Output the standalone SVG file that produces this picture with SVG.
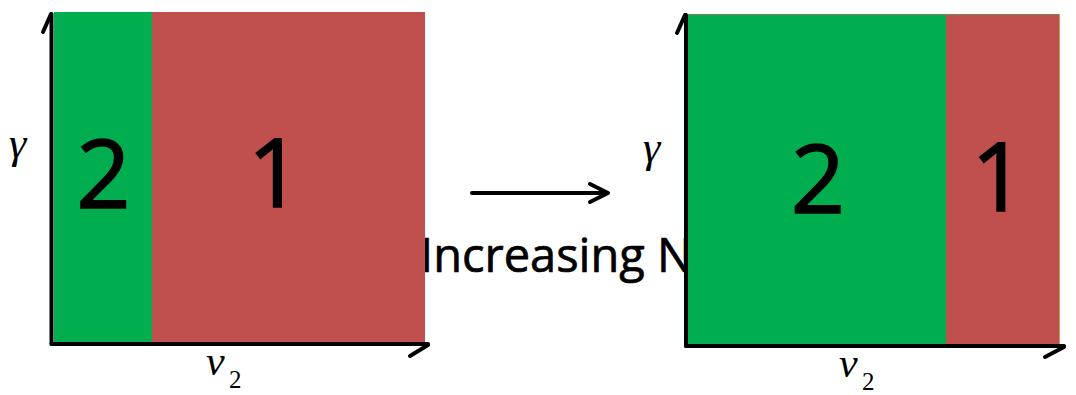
<svg xmlns="http://www.w3.org/2000/svg" width="1076" height="395" viewBox="0 0 1076 395">
<style>
.green{fill:#00AE50}
.red{fill:#C0504D}
.axis{stroke:#000;stroke-width:4;fill:none;stroke-linecap:round;stroke-linejoin:round}
.digit{font-family:"Open Sans","Liberation Sans",sans-serif;font-size:95px;fill:#000;stroke:#000;stroke-width:1.6;text-anchor:middle}
.math{font-family:"Liberation Serif","DejaVu Serif",serif;font-style:italic;font-size:44px;fill:#000}
.nu{font-family:"Liberation Serif","DejaVu Serif",serif;font-style:italic;font-size:42px;fill:#000}
.sub{font-family:"Liberation Serif","DejaVu Serif",serif;font-size:25px;fill:#000}
.label{font-family:"Open Sans","Liberation Sans",sans-serif;font-size:47px;fill:#000;stroke:#000;stroke-width:0.7}
</style>
<rect width="1076" height="395" fill="#fff"/>
<g id="increasing-label">
<text class="label" x="420" y="272">Increasing N</text>
</g>
<g id="panel-left">
<line class="axis" x1="51.5" y1="14" x2="51.5" y2="344"/>
<line class="axis" x1="43" y1="32" x2="51" y2="14"/>
<line class="axis" x1="51.5" y1="344" x2="428" y2="344"/>
<line class="axis" x1="428" y1="345" x2="410" y2="356"/>
<rect class="green" x="54" y="12" width="98" height="330"/>
<rect class="red" x="152" y="12" width="273" height="330"/>
<text class="digit" x="103.5" y="208">2</text>
<text class="digit" x="275" y="207">1</text>
<text class="math" x="9" y="158">γ</text>
<text class="nu" x="206" y="375">ν</text>
<text class="sub" x="229" y="388">2</text>
</g>
<g id="panel-right">
<line class="axis" x1="686" y1="15" x2="686" y2="346"/>
<line class="axis" x1="677" y1="33" x2="685" y2="15"/>
<line class="axis" x1="686" y1="346" x2="1064" y2="346"/>
<line class="axis" x1="1064" y1="347" x2="1045" y2="357"/>
<rect class="green" x="688" y="14" width="258" height="330"/>
<rect class="red" x="946" y="14" width="113" height="330"/>
<line x1="688" y1="14.5" x2="1059" y2="14.5" stroke="#7C8458" stroke-width="1"/>
<line x1="1059.5" y1="14" x2="1059.5" y2="344" stroke="#C4A060" stroke-width="1"/>
<text class="digit" x="818" y="213">2</text>
<text class="digit" x="998.5" y="211">1</text>
<text class="math" x="643" y="162">γ</text>
<text class="nu" x="839" y="377">ν</text>
<text class="sub" x="862" y="390">2</text>
</g>
<g id="connectors">
<line class="axis" x1="472" y1="193" x2="607" y2="193"/>
<polyline class="axis" points="590,184 608,193 590,202"/>
</g>
</svg>
